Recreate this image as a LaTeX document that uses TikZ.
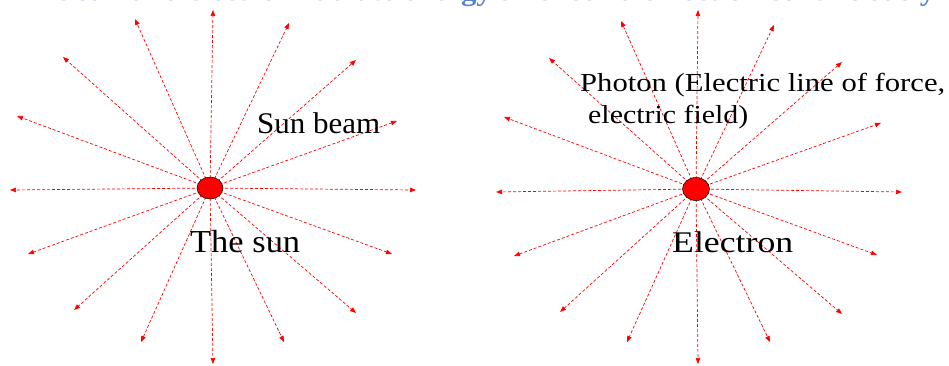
\documentclass[tikz,border=0pt]{standalone}
\usepackage{fontspec}
\setmainfont{Liberation Serif}
\usetikzlibrary{arrows.meta,shapes.geometric,backgrounds}
\definecolor{titleblue}{RGB}{85,130,215}
\begin{document}
\begin{tikzpicture}[x=1pt,y=-1pt,
  beam/.style={draw=red, dash pattern=on 3pt off 2pt, line width=0.7pt, -{Triangle[length=6pt,width=4.5pt]}},
  body/.style={ellipse, draw=black, line width=0.5pt, fill=red, inner sep=0pt},
  lbl/.style={inner sep=0pt, anchor=base west, text=black}]
\useasboundingbox (0,0) rectangle (949,365);
\clip (0,0) rectangle (949,365);
% title (cut off at the top)
\node[anchor=base west, inner sep=0pt, text=titleblue] (title) at (18,0.8)
  {\resizebox{917pt}{\height}{\fontsize{28}{30}\selectfont\bfseries The sun and electron radiate energy all around direction continuously}};
% bodies
\node[body, minimum width=26pt, minimum height=22pt] (sun) at (210,188) {};
\node[body, minimum width=27pt, minimum height=23pt] (electron) at (696,189) {};
% ray ends
\foreach \i/\p in {1/{213,10},2/{135,19},3/{289,23},4/{63,57},5/{356,60},6/{17,116},7/{397,121},8/{10,190},9/{416,190},10/{28,254},11/{392,254},12/{74,310},13/{356,313},14/{141,342},15/{284,342},16/{213,364}}
  \coordinate (s\i) at (\p);
\foreach \i/\p in {1/{698,10},2/{621,21},3/{774,25},4/{549,58},5/{842,62},6/{504,117},7/{881,123},8/{496,192},9/{902,192},10/{514,256},11/{877,255},12/{560,312},13/{842,314},14/{627,342},15/{770,342},16/{698,364}}
  \coordinate (e\i) at (\p);
\begin{scope}[on background layer]
  \foreach \i in {1,...,16} {
    \draw[beam] (sun.center) -- (s\i);
    \draw[beam] (electron.center) -- (e\i);
  }
\end{scope}
% labels
\node[lbl] (beamlbl) at (257,133) {\resizebox{123pt}{\height}{\fontsize{30}{36}\selectfont Sun beam}};
\node[lbl] (sunlbl) at (190,252) {\resizebox{110pt}{\height}{\fontsize{32}{38}\selectfont The sun}};
\node[lbl] (photon1) at (580,91) {\resizebox{365pt}{\height}{\fontsize{26}{31}\selectfont Photon (Electric line of force,}};
\node[lbl] (photon2) at (588,123) {\resizebox{160pt}{\height}{\fontsize{26}{31}\selectfont electric field)}};
\node[lbl] (eleclbl) at (672,252) {\resizebox{121pt}{\height}{\fontsize{30}{36}\selectfont Electron}};
\end{tikzpicture}
\end{document}
